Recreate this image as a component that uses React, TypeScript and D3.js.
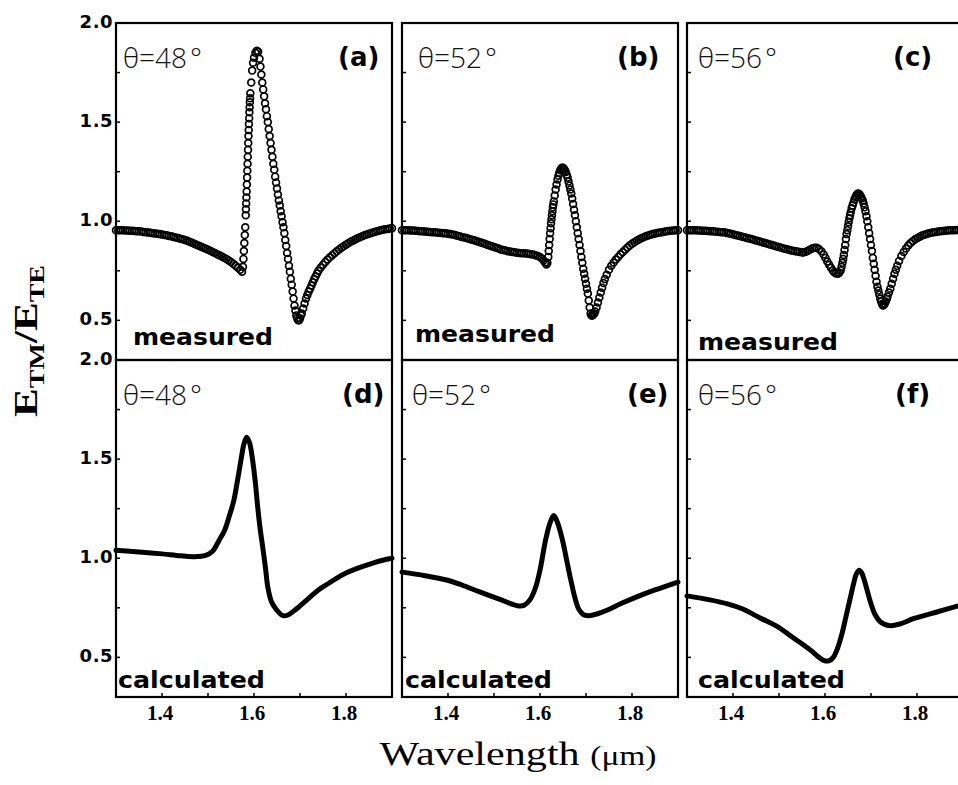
import React, { useRef, useEffect } from "react";
import * as d3 from "d3";

type Pt = [number, number];

// wavelength (um), E_TM/E_TE
const measuredA: Pt[] = [
	[1.300, .955], [1.305, .955], [1.310, .954], [1.315, .954], [1.320, .953], [1.325, .953], [1.330, .952], [1.335, .952],
	[1.340, .951], [1.345, .950], [1.350, .949], [1.355, .948], [1.360, .946], [1.365, .945], [1.370, .943], [1.375, .942],
	[1.380, .940], [1.385, .938], [1.390, .937], [1.395, .935], [1.400, .933], [1.405, .931], [1.410, .929], [1.415, .926],
	[1.420, .924], [1.425, .921], [1.430, .918], [1.435, .915], [1.440, .912], [1.445, .909], [1.450, .905], [1.455, .901],
	[1.460, .896], [1.465, .891], [1.470, .886], [1.475, .881], [1.480, .876], [1.485, .871], [1.490, .866], [1.495, .861],
	[1.500, .856], [1.505, .851], [1.510, .845], [1.515, .840], [1.520, .834], [1.525, .828], [1.530, .822], [1.535, .816],
	[1.540, .810], [1.545, .802], [1.550, .794], [1.555, .785], [1.560, .776], [1.565, .766], [1.570, .755], [1.574, .745],
	[1.576, .77], [1.577, .81], [1.578, .85], [1.579, .89], [1.580, .93], [1.581, .97],
	[1.5820, 1.03], [1.5825, 1.06], [1.5830, 1.09], [1.5835, 1.12], [1.5840, 1.15], [1.5845, 1.185], [1.5850, 1.22],
	[1.5855, 1.255], [1.5860, 1.29], [1.5865, 1.325], [1.5870, 1.36], [1.5875, 1.395], [1.5880, 1.43], [1.5885, 1.46],
	[1.5890, 1.49], [1.5895, 1.52], [1.5900, 1.55], [1.5905, 1.575], [1.5910, 1.60], [1.5915, 1.62], [1.5920, 1.645],
	[1.594, 1.70], [1.596, 1.76], [1.598, 1.80], [1.600, 1.825], [1.603, 1.85], [1.606, 1.86], [1.609, 1.855],
	[1.612, 1.82], [1.614, 1.78], [1.616, 1.74], [1.618, 1.70], [1.620, 1.665], [1.622, 1.63], [1.624, 1.595], [1.626, 1.565],
	[1.628, 1.53], [1.630, 1.50], [1.632, 1.465], [1.634, 1.43], [1.636, 1.395], [1.638, 1.36], [1.640, 1.325], [1.642, 1.29],
	[1.644, 1.26], [1.646, 1.225], [1.648, 1.195], [1.650, 1.165], [1.652, 1.135], [1.654, 1.105], [1.656, 1.08], [1.658, 1.05],
	[1.660, 1.025], [1.662, .995], [1.664, .97], [1.666, .94], [1.668, .905], [1.670, .875], [1.672, .84], [1.674, .81],
	[1.676, .775], [1.678, .745], [1.680, .71], [1.682, .68], [1.684, .645], [1.686, .61], [1.688, .575], [1.690, .55],
	[1.692, .525], [1.694, .51], [1.696, .50], [1.698, .50], [1.700, .51], [1.702, .525], [1.704, .535], [1.707, .56],
	[1.710, .585], [1.713, .61], [1.716, .628], [1.719, .645], [1.722, .66], [1.725, .676], [1.728, .692], [1.731, .708],
	[1.734, .722], [1.737, .736], [1.740, .75], [1.745, .766], [1.750, .781], [1.755, .794], [1.760, .807], [1.765, .818],
	[1.770, .829], [1.775, .839], [1.780, .848], [1.785, .857], [1.790, .866], [1.795, .874], [1.800, .882], [1.805, .889],
	[1.810, .896], [1.815, .902], [1.820, .908], [1.825, .914], [1.830, .919], [1.835, .924], [1.840, .929], [1.845, .933],
	[1.850, .937], [1.855, .941], [1.860, .945], [1.865, .948], [1.870, .951], [1.875, .954], [1.880, .957], [1.885, .959],
	[1.890, .961], [1.895, .963], [1.900, .965]
];

const measuredB: Pt[] = [
	[1.300, .955], [1.305, .955], [1.310, .954], [1.315, .954], [1.320, .953], [1.325, .953], [1.330, .952], [1.335, .951],
	[1.340, .950], [1.345, .949], [1.350, .948], [1.355, .947], [1.360, .946], [1.365, .945], [1.370, .944], [1.375, .943],
	[1.380, .942], [1.385, .941], [1.390, .940], [1.395, .939], [1.400, .937], [1.405, .935], [1.410, .933], [1.415, .930],
	[1.420, .927], [1.425, .924], [1.430, .921], [1.435, .918], [1.440, .915], [1.445, .912], [1.450, .908], [1.455, .905],
	[1.460, .901], [1.465, .898], [1.470, .894], [1.475, .890], [1.480, .886], [1.485, .882], [1.490, .878], [1.495, .874],
	[1.500, .870], [1.505, .866], [1.510, .862], [1.515, .858], [1.520, .855], [1.525, .852], [1.530, .849], [1.535, .847],
	[1.540, .845], [1.545, .843], [1.550, .841], [1.555, .840], [1.560, .839], [1.565, .838], [1.570, .837], [1.575, .836],
	[1.580, .834], [1.585, .832], [1.590, .829], [1.595, .825], [1.600, .819], [1.604, .812], [1.608, .802], [1.611, .792],
	[1.614, .782], [1.616, .79], [1.618, .82], [1.619, .85], [1.620, .88], [1.621, .91], [1.622, .94], [1.623, .965],
	[1.624, .99], [1.625, 1.01], [1.626, 1.03], [1.627, 1.05], [1.628, 1.07], [1.629, 1.085], [1.630, 1.10], [1.632, 1.13],
	[1.634, 1.16], [1.636, 1.185], [1.638, 1.21], [1.640, 1.23], [1.642, 1.245], [1.644, 1.257], [1.646, 1.265], [1.648, 1.27],
	[1.650, 1.27], [1.652, 1.265], [1.654, 1.258], [1.656, 1.248], [1.658, 1.235], [1.660, 1.22], [1.662, 1.20], [1.664, 1.18],
	[1.666, 1.16], [1.668, 1.14], [1.670, 1.115], [1.672, 1.087], [1.674, 1.058], [1.676, 1.03], [1.678, 1.00], [1.680, .97],
	[1.682, .94], [1.684, .91], [1.686, .88], [1.688, .85], [1.690, .82], [1.692, .79], [1.694, .76], [1.696, .735],
	[1.698, .71], [1.700, .685], [1.702, .66], [1.704, .635], [1.706, .60], [1.708, .565], [1.710, .535], [1.712, .525],
	[1.714, .525], [1.716, .53], [1.718, .535], [1.720, .545], [1.723, .565], [1.726, .59], [1.729, .615], [1.732, .64],
	[1.735, .665], [1.738, .688], [1.741, .708], [1.745, .73], [1.750, .755], [1.755, .775], [1.760, .792], [1.765, .807],
	[1.770, .82], [1.775, .833], [1.780, .845], [1.785, .856], [1.790, .867], [1.795, .877], [1.800, .886], [1.805, .894],
	[1.810, .901], [1.815, .908], [1.820, .914], [1.825, .919], [1.830, .924], [1.835, .928], [1.840, .932], [1.845, .935],
	[1.850, .938], [1.855, .941], [1.860, .943], [1.865, .945], [1.870, .947], [1.875, .949], [1.880, .951], [1.885, .952],
	[1.890, .953], [1.895, .954], [1.900, .955]
];

const measuredC: Pt[] = [
	[1.300, .955], [1.305, .955], [1.310, .955], [1.315, .954], [1.320, .954], [1.325, .953], [1.330, .953], [1.335, .952],
	[1.340, .952], [1.345, .951], [1.350, .950], [1.355, .949], [1.360, .948], [1.365, .947], [1.370, .946], [1.375, .945],
	[1.380, .944], [1.385, .942], [1.390, .940], [1.395, .937], [1.400, .934], [1.405, .931], [1.410, .928], [1.415, .925],
	[1.420, .922], [1.425, .919], [1.430, .916], [1.435, .913], [1.440, .910], [1.445, .907], [1.450, .903], [1.455, .900],
	[1.460, .897], [1.465, .893], [1.470, .890], [1.475, .886], [1.480, .883], [1.485, .880], [1.490, .876], [1.495, .873],
	[1.500, .870], [1.505, .866], [1.510, .863], [1.515, .860], [1.520, .857], [1.525, .854], [1.530, .851], [1.535, .849],
	[1.540, .847], [1.545, .845], [1.550, .843], [1.552, .842], [1.557, .845], [1.562, .850], [1.567, .856], [1.572, .862],
	[1.577, .866], [1.582, .866], [1.587, .86], [1.592, .848], [1.597, .832], [1.601, .815], [1.605, .797], [1.609, .78],
	[1.613, .765], [1.617, .752], [1.620, .743], [1.624, .737], [1.628, .735], [1.631, .74], [1.634, .752], [1.636, .77],
	[1.638, .79], [1.6395, .81], [1.641, .83], [1.6425, .855], [1.644, .88], [1.6455, .91], [1.647, .935], [1.6485, .955],
	[1.650, .975], [1.6515, .995], [1.653, 1.015], [1.6545, 1.03], [1.656, 1.045], [1.658, 1.065], [1.660, 1.08], [1.662, 1.095],
	[1.664, 1.11], [1.666, 1.12], [1.668, 1.13], [1.670, 1.137], [1.672, 1.14], [1.674, 1.138], [1.676, 1.132], [1.678, 1.125],
	[1.680, 1.115], [1.682, 1.105], [1.684, 1.09], [1.686, 1.07], [1.688, 1.05], [1.690, 1.025], [1.692, 1.00], [1.694, .97],
	[1.696, .94], [1.698, .91], [1.700, .88], [1.702, .85], [1.704, .815], [1.706, .785], [1.708, .755], [1.710, .725],
	[1.712, .695], [1.714, .67], [1.716, .65], [1.718, .63], [1.720, .61], [1.722, .595], [1.724, .582], [1.726, .575],
	[1.728, .578], [1.730, .585], [1.732, .595], [1.734, .607], [1.736, .62], [1.739, .64], [1.742, .66], [1.745, .685],
	[1.748, .71], [1.751, .735], [1.754, .755], [1.757, .775], [1.761, .80], [1.766, .825], [1.771, .845], [1.776, .862],
	[1.781, .877], [1.786, .89], [1.791, .90], [1.796, .909], [1.801, .916], [1.806, .922], [1.811, .928], [1.816, .932],
	[1.821, .936], [1.826, .939], [1.831, .942], [1.836, .944], [1.841, .946], [1.846, .948], [1.851, .95], [1.856, .951],
	[1.861, .952], [1.866, .953], [1.871, .954], [1.876, .955], [1.881, .955], [1.886, .956], [1.891, .956], [1.896, .956]
];

const calculatedD: Pt[] = [
	[1.300, 1.04], [1.350, 1.032], [1.400, 1.022], [1.440, 1.012], [1.470, 1.008], [1.495, 1.015], [1.510, 1.035],
	[1.524, 1.09], [1.536, 1.14], [1.546, 1.21], [1.556, 1.29], [1.564, 1.39], [1.572, 1.50], [1.578, 1.575],
	[1.584, 1.61], [1.590, 1.585], [1.597, 1.495], [1.603, 1.38], [1.608, 1.26], [1.613, 1.155], [1.619, 1.055],
	[1.625, .95], [1.630, .855], [1.638, .78], [1.649, .74], [1.663, .71], [1.675, .715], [1.690, .74], [1.700, .76],
	[1.720, .80], [1.740, .84], [1.760, .87], [1.780, .90], [1.800, .925], [1.820, .945], [1.840, .962], [1.860, .977],
	[1.880, .99], [1.900, 1.0]
];

const calculatedE: Pt[] = [
	[1.300, .93], [1.350, .912], [1.397, .89], [1.430, .865], [1.469, .83], [1.510, .795], [1.551, .76], [1.565, .762],
	[1.578, .79], [1.590, .85], [1.600, .94], [1.612, 1.09], [1.622, 1.18], [1.630, 1.215], [1.638, 1.18], [1.649, 1.09],
	[1.658, .99], [1.667, .89], [1.676, .80], [1.685, .74], [1.695, .715], [1.707, .71], [1.725, .72], [1.748, .74],
	[1.775, .77], [1.805, .80], [1.850, .84], [1.900, .88]
];

const calculatedF: Pt[] = [
	[1.300, .81], [1.350, .79], [1.388, .77], [1.420, .745], [1.458, .70], [1.500, .65], [1.530, .60], [1.552, .565],
	[1.572, .53], [1.587, .50], [1.597, .485], [1.608, .482], [1.618, .50], [1.628, .55], [1.637, .62], [1.646, .71],
	[1.654, .79], [1.662, .87], [1.668, .92], [1.674, .94], [1.680, .925], [1.686, .885], [1.692, .835], [1.700, .77],
	[1.709, .715], [1.720, .68], [1.741, .66], [1.765, .67], [1.792, .695], [1.845, .73], [1.890, .76]
];

const xTickLabels = [1.4, 1.6, 1.8];
const xMinorTicks = [1.4, 1.5, 1.6, 1.7, 1.8];
const yTickLabels = [0.5, 1.0, 1.5, 2.0];
const yMinorTicks = [0.5, 0.75, 1.0, 1.25, 1.5, 1.75];
const angles = ["48", "52", "56"];
const panelLetters = ["(a)", "(b)", "(c)", "(d)", "(e)", "(f)"];
const panelKinds = ["measured", "calculated"];

const panelLeft = [116, 402, 687];
const panelTop = [23, 360];
const panelW = 276;
const panelH = 337;

// per-panel text placement (offsets inside panel)
const layout = [
	{ data: measuredA, col: 0, row: 0, thetaX: 7, letterX: 222, kindX: 17, kindY: -15 },
	{ data: measuredB, col: 1, row: 0, thetaX: 16, letterX: 215, kindX: 13, kindY: -18 },
	{ data: measuredC, col: 2, row: 0, thetaX: 11, letterX: 206, kindX: 11, kindY: -10 },
	{ data: calculatedD, col: 0, row: 1, thetaX: 7, letterX: 226, kindX: 2, kindY: -9 },
	{ data: calculatedE, col: 1, row: 1, thetaX: 10, letterX: 225, kindX: 3, kindY: -9 },
	{ data: calculatedF, col: 2, row: 1, thetaX: 11, letterX: 208, kindX: 11, kindY: -9 }
];

const App = () => {

	const chartRef = useRef<SVGSVGElement>(null);

	useEffect(() => {

		const svg = d3.select(chartRef.current);
		svg.selectAll("*").remove();

		const x = d3.scaleLinear().domain([1.3, 1.9]).range([0, panelW]);
		const y = d3.scaleLinear().domain([0.3, 2.0]).range([panelH, 0]);

		const line = d3.line<Pt>()
			.x(d => x(d[0]))
			.y(d => y(d[1]))
			.curve(d3.curveCatmullRom.alpha(0.5));

		layout.forEach((p, i) => {
			const g = svg.append("g")
				.attr("transform", `translate(${panelLeft[p.col]},${panelTop[p.row]})`);

			if (p.row === 0) {
				g.selectAll("circle")
					.data(p.data)
					.enter()
					.append("circle")
					.attr("cx", d => x(d[0]))
					.attr("cy", d => y(d[1]))
					.attr("r", 3.4)
					.attr("fill", "none")
					.attr("stroke", "black")
					.attr("stroke-width", 1.7);
			} else {
				g.append("path")
					.datum(p.data)
					.attr("d", line)
					.attr("fill", "none")
					.attr("stroke", "black")
					.attr("stroke-width", 5)
					.attr("stroke-linejoin", "round")
					.attr("stroke-linecap", "round");
			}

			// frame
			g.append("rect")
				.attr("width", panelW)
				.attr("height", panelH)
				.attr("fill", "none")
				.attr("stroke", "black")
				.attr("stroke-width", 2.2);

			// inward ticks on the left edge
			g.selectAll(".ytick")
				.data(yMinorTicks)
				.enter()
				.append("line")
				.attr("x1", 0)
				.attr("x2", 4)
				.attr("y1", d => y(d))
				.attr("y2", d => y(d))
				.attr("stroke", "black")
				.attr("stroke-width", 1.5);

			if (p.row === 1) {
				g.selectAll(".xtick")
					.data(xMinorTicks)
					.enter()
					.append("line")
					.attr("x1", d => x(d))
					.attr("x2", d => x(d))
					.attr("y1", panelH)
					.attr("y2", panelH - 4)
					.attr("stroke", "black")
					.attr("stroke-width", 1.5);

				g.selectAll(".xlabel")
					.data(xTickLabels)
					.enter()
					.append("text")
					.attr("x", d => x(d) - 2)
					.attr("y", panelH + 23)
					.attr("text-anchor", "middle")
					.attr("font-family", "'Liberation Serif', serif")
					.attr("font-weight", "bold")
					.attr("font-size", 21)
					.text(d => d.toFixed(1));
			}

			if (p.col === 0) {
				g.selectAll(".ylabel")
					.data(yTickLabels)
					.enter()
					.append("text")
					.attr("x", -3)
					.attr("y", d => y(d) - 2)
					.attr("dominant-baseline", "central")
					.attr("text-anchor", "end")
					.attr("font-family", "'DejaVu Sans', sans-serif")
					.attr("font-weight", "bold")
					.attr("font-size", 18)
					.attr("letter-spacing", 0.5)
					.text(d => d.toFixed(1));
			}

			// angle
			const th = g.append("text")
				.attr("x", p.thetaX)
				.attr("y", 45)
				.attr("font-family", "'Open Sans', 'DejaVu Sans', sans-serif")
				.attr("font-weight", 300)
				.attr("font-size", 28)
				.attr("fill", "#111");
			th.append("tspan").text(`θ=${angles[p.col]}`);
			th.append("tspan").attr("dx", 3).text("°");

			// panel letter
			g.append("text")
				.attr("x", p.letterX)
				.attr("y", 43)
				.attr("font-family", "'DejaVu Sans', sans-serif")
				.attr("font-weight", "bold")
				.attr("font-size", 26)
				.text(panelLetters[i]);

			// measured / calculated
			g.append("text")
				.attr("x", p.kindX)
				.attr("y", panelH + p.kindY)
				.attr("font-family", "'DejaVu Sans', sans-serif")
				.attr("font-weight", "bold")
				.attr("font-size", 23)
				.attr("textLength", p.row === 0 ? 140 : 147)
				.attr("lengthAdjust", "spacingAndGlyphs")
				.text(panelKinds[p.row]);
		});

		// Y axis title
		const yt = svg.append("text")
			.attr("transform", "translate(37,341) rotate(-90)")
			.attr("text-anchor", "middle")
			.attr("font-family", "'Liberation Serif', serif")
			.attr("font-weight", "bold")
			.attr("textLength", 152)
			.attr("lengthAdjust", "spacingAndGlyphs");
		yt.append("tspan").attr("font-size", 34).text("E");
		yt.append("tspan").attr("font-size", 22).attr("dy", 7).text("TM");
		yt.append("tspan").attr("font-size", 34).attr("dy", -7).text("/E");
		yt.append("tspan").attr("font-size", 22).attr("dy", 7).text("TE");

		// X axis title
		const xt = svg.append("text")
			.attr("x", 518)
			.attr("y", 765)
			.attr("text-anchor", "middle")
			.attr("font-family", "'Liberation Serif', serif")
			.attr("textLength", 277)
			.attr("lengthAdjust", "spacingAndGlyphs");
		xt.append("tspan").attr("font-size", 34).text("Wavelength ");
		xt.append("tspan").attr("font-size", 27).text("(μm)");

	}, []);

	return (
		<svg
			ref={chartRef}
			width={958}
			height={785}
			style={{ position: "absolute", left: 0, top: 0, background: "white" }}
		/>
	);
};

export default App;
